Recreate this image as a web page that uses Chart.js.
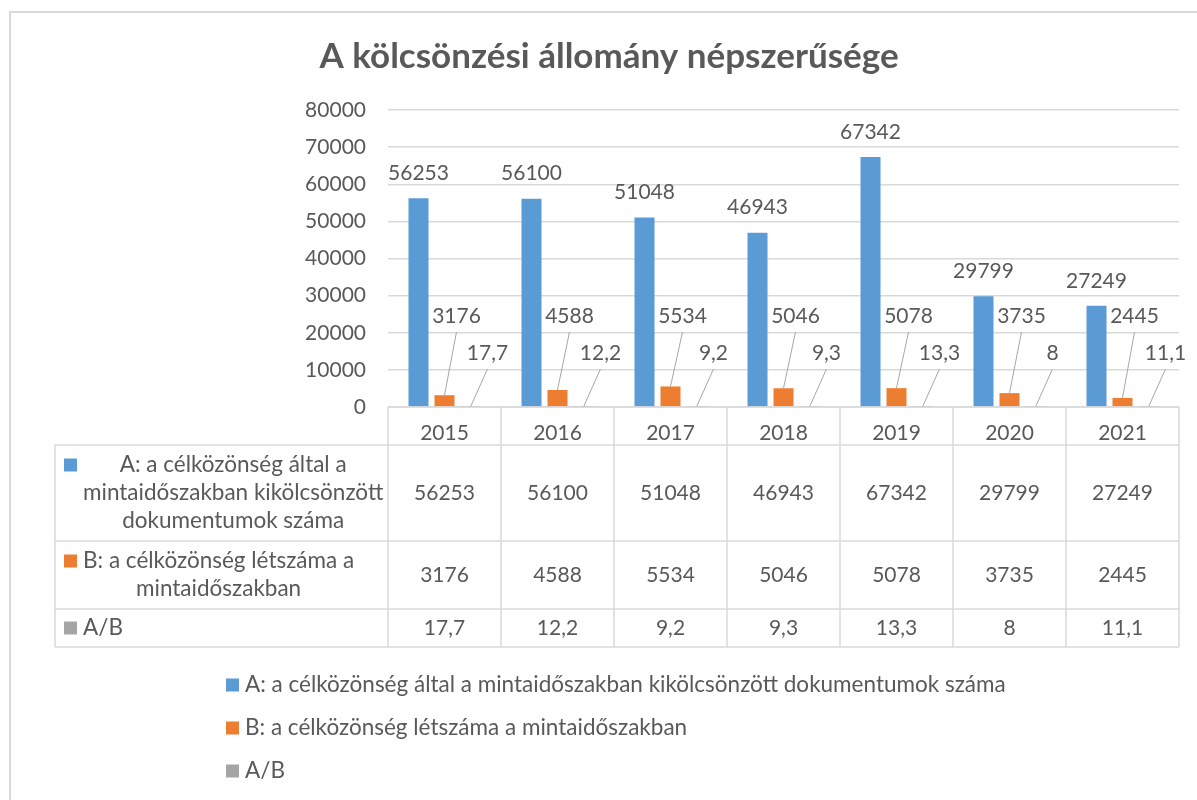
<!DOCTYPE html>
<html>
<head>
<meta charset="utf-8">
<script src="https://cdn.jsdelivr.net/npm/chart.js@4"></script>
<style>
  body { margin: 0; background: #fff; }
  canvas { display: block; }
</style>
</head>
<body>
<canvas id="chart" width="1197" height="800"></canvas>
<script>
// data
const years = ['2015', '2016', '2017', '2018', '2019', '2020', '2021'];
const borrowed = [56253, 56100, 51048, 46943, 67342, 29799, 27249];
const members = [3176, 4588, 5534, 5046, 5078, 3735, 2445];
const ratio = [17.7, 12.2, 9.2, 9.3, 13.3, 8, 11.1];

const seriesNames = [
    'A: a célközönség által a mintaidőszakban kikölcsönzött dokumentumok száma',
    'B: a célközönség létszáma a mintaidőszakban',
    'A/B',
];
// the same names, wrapped the way the data table shows them
const tableNames = [
    ['A: a célközönség által a', 'mintaidőszakban kikölcsönzött', 'dokumentumok száma'],
    ['B: a célközönség létszáma a', 'mintaidőszakban'],
    ['A/B'],
];
const chartTitle = 'A kölcsönzési állomány népszerűsége';

const colors = ['#5b9bd5', '#ed7d31', '#a5a5a5'];
const ink = '#595959';
const rule = '#d9d9d9';
const family = 'Lato, "Liberation Sans", sans-serif';
const numFont = '21px ' + family;
const textFont = '22.5px ' + family;

const fmt = (v) => String(v).replace('.', ',');

const excelExtras = {
    id: 'excelExtras',
    beforeDraw(chart) {
        const ctx = chart.ctx;
        ctx.save();
        ctx.strokeStyle = rule;
        ctx.lineWidth = 2;
        ctx.strokeRect(10, 12, chart.width + 10, chart.height + 10);

        // Excel centres the title over the whole frame, not the padded box
        ctx.font = 'bold 35px ' + family;
        ctx.fillStyle = ink;
        ctx.textAlign = 'center';
        ctx.textBaseline = 'middle';
        ctx.fillText(chartTitle, 609, 57);
        ctx.restore();
    },
    afterDatasetsDraw(chart) {
        const ctx = chart.ctx;
        const base = chart.chartArea.bottom;
        ctx.save();
        ctx.font = numFont;
        ctx.fillStyle = ink;
        ctx.textAlign = 'center';
        ctx.textBaseline = 'middle';
        ctx.strokeStyle = '#a6a6a6';
        ctx.lineWidth = 1;

        chart.getDatasetMeta(0).data.forEach((bar, i) => {
            ctx.fillText(fmt(borrowed[i]), bar.x, bar.y - 25);
        });

        // B and A/B labels sit up and to the right with leader lines
        const leader = [
            { meta: 1, values: members, dx: 12, y: base - 91 },
            { meta: 2, values: ratio, dx: 17, y: base - 54 },
        ];
        leader.forEach(({ meta, values, dx, y }) => {
            chart.getDatasetMeta(meta).data.forEach((bar, i) => {
                const lx = bar.x + dx;
                ctx.fillText(fmt(values[i]), lx, y);
                ctx.beginPath();
                ctx.moveTo(lx, y + 16);
                ctx.lineTo(bar.x, bar.y);
                ctx.stroke();
            });
        });
        ctx.restore();
    },
    afterDraw(chart) {
        const { ctx, chartArea, scales: { x } } = chart;
        const top = chartArea.bottom;
        const right = chartArea.right;
        const tableLeft = 55;
        const rows = [top, top + 38, top + 134, top + 202, top + 240];
        const colW = (chartArea.right - chartArea.left) / years.length;

        ctx.save();
        ctx.strokeStyle = rule;
        ctx.lineWidth = 1.5;
        ctx.beginPath();
        ctx.moveTo(chartArea.left, rows[0]);
        ctx.lineTo(right, rows[0]);
        rows.slice(1).forEach((y) => {
            ctx.moveTo(tableLeft, y);
            ctx.lineTo(right, y);
        });
        for (let i = 0; i <= years.length; i++) {
            const cx = chartArea.left + i * colW;
            ctx.moveTo(cx, rows[0]);
            ctx.lineTo(cx, rows[4]);
        }
        ctx.moveTo(tableLeft, rows[1]);
        ctx.lineTo(tableLeft, rows[4]);
        ctx.stroke();

        ctx.fillStyle = ink;
        ctx.textBaseline = 'middle';

        const series = [borrowed, members, ratio];
        series.forEach((values, r) => {
            const midY = (rows[r + 1] + rows[r + 2]) / 2;

            ctx.font = numFont;
            ctx.textAlign = 'center';
            values.forEach((v, i) => {
                ctx.fillText(fmt(v), x.getPixelForValue(i), midY);
            });

            // row header: marker + text block centred on its widest line
            ctx.font = textFont;
            const lines = tableNames[r];
            const lineH = 28;
            const firstY = midY - (lines.length - 1) * lineH / 2;
            const maxW = Math.max(...lines.map((l) => ctx.measureText(l).width));
            const blockC = 83 + maxW / 2;
            ctx.fillStyle = colors[r];
            ctx.fillRect(64, firstY - 6.5, 13, 13);
            ctx.fillStyle = ink;
            lines.forEach((line, k) => {
                ctx.fillText(line, blockC, firstY + k * lineH);
            });
        });

        // legend below the table
        ctx.font = textFont;
        ctx.textAlign = 'left';
        seriesNames.forEach((name, r) => {
            const y = top + 278 + r * 43;
            ctx.fillStyle = colors[r];
            ctx.fillRect(226, y - 6.5, 13, 13);
            ctx.fillStyle = ink;
            ctx.fillText(name, 245, y);
        });
        ctx.restore();
    },
};

const ctx = document.getElementById('chart').getContext('2d');

new Chart(ctx, {
    type: 'bar',
    data: {
        labels: years,
        datasets: [
            { label: seriesNames[0], data: borrowed, backgroundColor: colors[0] },
            { label: seriesNames[1], data: members, backgroundColor: colors[1] },
            { label: seriesNames[2], data: ratio, backgroundColor: colors[2] },
        ],
    },
    options: {
        responsive: false,
        animation: false,
        devicePixelRatio: 1,
        categoryPercentage: 0.69,
        barPercentage: 0.77,
        layout: {
            padding: { left: 10, right: 18, top: 110, bottom: 0 },
        },
        scales: {
            x: {
                grid: { display: false },
                border: { display: false },
                ticks: {
                    color: ink,
                    padding: 6,
                    font: { family: family, size: 21 },
                },
                afterFit: (scale) => {
                    scale.height = 393;
                },
            },
            y: {
                min: 0,
                max: 80000,
                grid: {
                    color: rule,
                    lineWidth: 1.5,
                    drawTicks: false,
                },
                border: { display: false },
                ticks: {
                    stepSize: 10000,
                    color: ink,
                    padding: 22,
                    font: { family: family, size: 21 },
                    callback: (value) => String(value),
                },
                afterFit: (scale) => {
                    scale.width = 378;
                },
            },
        },
        plugins: {
            legend: { display: false },
            tooltip: { enabled: false },
            title: { display: false },
        },
    },
    plugins: [excelExtras],
});
</script>
</body>
</html>
